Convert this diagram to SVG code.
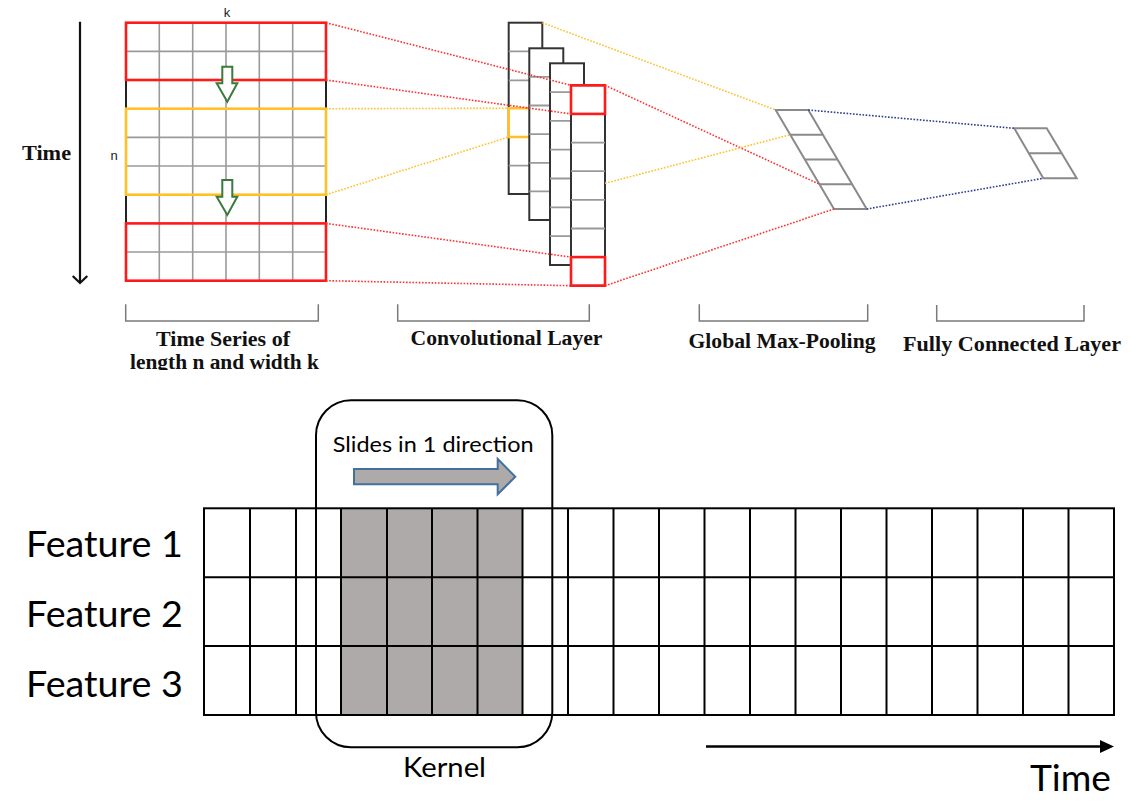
<svg xmlns="http://www.w3.org/2000/svg" width="1144" height="806" viewBox="0 0 1144 806">
<style>
.ser{font-family:"Liberation Serif","Times New Roman",serif;font-weight:bold;fill:#111;}
.sans{font-family:"Liberation Sans",Arial,sans-serif;fill:#222;}
.cal{font-family:Lato,"Open Sans",sans-serif;fill:#000;}
.gin{stroke:#9a9a9a;stroke-width:1.6;fill:none;}
.blk{stroke:#222;stroke-width:2;fill:none;}
.red{stroke:#ff1a1a;stroke-width:2.6;fill:none;}
.yel{stroke:#ffc02a;stroke-width:2.6;fill:none;}
.col{fill:#fff;stroke:#333;stroke-width:2;}
.cin{stroke:#999;stroke-width:1.8;}
.dr{stroke:#ff3030;stroke-width:1.6;stroke-dasharray:1.6 1.6;fill:none;}
.dy{stroke:#ffc02a;stroke-width:1.6;stroke-dasharray:1.6 1.6;fill:none;}
.db{stroke:#2a3f8f;stroke-width:1.6;stroke-dasharray:1.6 1.6;fill:none;}
.pg{stroke:#8a8a8a;stroke-width:2;fill:#fff;}
.pgl{stroke:#8a8a8a;stroke-width:2;}
.brk{stroke:#7a7a7a;stroke-width:1.5;fill:none;}
.grn{fill:#fff;stroke:#3a7a3a;stroke-width:2;}
.bg{stroke:#000;stroke-width:2;fill:none;}
</style>
<defs>
<clipPath id="clipLabel"><rect x="0" y="0" width="1144" height="370"/></clipPath>
</defs>

<!-- Left time axis -->
<g id="time-axis-top">
<line x1="80" y1="21.7" x2="80" y2="282.5" stroke="#111" stroke-width="2.2"/>
<polyline points="72.7,276 80,283 87.3,276" fill="none" stroke="#111" stroke-width="2.2"/>
<text class="ser" x="46.5" y="160" font-size="22" text-anchor="middle" textLength="49" lengthAdjust="spacingAndGlyphs">Time</text>
</g>

<!-- Input time series grid -->
<g id="input-series">
<g class="gin">
<line x1="159.3" y1="22.7" x2="159.3" y2="280.7"/>
<line x1="192.7" y1="22.7" x2="192.7" y2="280.7"/>
<line x1="226" y1="22.7" x2="226" y2="280.7"/>
<line x1="259.3" y1="22.7" x2="259.3" y2="280.7"/>
<line x1="292.7" y1="22.7" x2="292.7" y2="280.7"/>
<line x1="126" y1="51.4" x2="326" y2="51.4"/>
<line x1="126" y1="137.4" x2="326" y2="137.4"/>
<line x1="126" y1="166" x2="326" y2="166"/>
<line x1="126" y1="252" x2="326" y2="252"/>
</g>
<line class="blk" x1="126" y1="80" x2="126" y2="223.4"/>
<line class="blk" x1="326" y1="80" x2="326" y2="223.4"/>
<rect class="yel" x="126" y="108.7" width="200" height="86"/>
<rect class="red" x="126" y="22.7" width="200" height="57.3"/>
<rect class="red" x="126" y="223.4" width="200" height="57.3"/>
<polygon class="grn" points="222.3,66.7 232.3,66.7 232.3,83.3 237.3,83.3 227.3,101.7 216.7,83.3 222.3,83.3"/>
<polygon class="grn" points="222.3,180 232.3,180 232.3,196.7 237.3,196.7 227.3,215 216.7,196.7 222.3,196.7"/>
<text class="sans" x="227" y="17" font-size="13" text-anchor="middle">k</text>
<text class="sans" x="114" y="159.5" font-size="13" text-anchor="middle">n</text>
</g>

<!-- Convolutional layer -->
<g id="conv-layer">
<rect class="col" x="508.7" y="22.7" width="33.6" height="171.3"/>
<g class="cin">
<line x1="508.7" y1="51.3" x2="542.3" y2="51.3"/>
<line x1="508.7" y1="80.3" x2="542.3" y2="80.3"/>
<line x1="508.7" y1="165.7" x2="542.3" y2="165.7"/>
</g>
<polyline class="yel" points="529.3,108.3 508.7,108.3 508.7,137 529.3,137"/>
<rect class="col" x="529.3" y="48.3" width="34" height="171.7"/>
<g class="cin">
<line x1="529.3" y1="76.9" x2="563.3" y2="76.9"/>
<line x1="529.3" y1="105.5" x2="563.3" y2="105.5"/>
<line x1="529.3" y1="134.1" x2="563.3" y2="134.1"/>
<line x1="529.3" y1="162.8" x2="563.3" y2="162.8"/>
<line x1="529.3" y1="191.4" x2="563.3" y2="191.4"/>
</g>
<rect class="col" x="550" y="63.3" width="34" height="201.7"/>
<g class="cin">
<line x1="550" y1="92.1" x2="584" y2="92.1"/>
<line x1="550" y1="120.9" x2="584" y2="120.9"/>
<line x1="550" y1="149.7" x2="584" y2="149.7"/>
<line x1="550" y1="178.5" x2="584" y2="178.5"/>
<line x1="550" y1="207.4" x2="584" y2="207.4"/>
<line x1="550" y1="236.2" x2="584" y2="236.2"/>
</g>
<rect class="col" x="571" y="85.3" width="34" height="200.4"/>
<g class="cin">
<line x1="571" y1="142.6" x2="605" y2="142.6"/>
<line x1="571" y1="171.2" x2="605" y2="171.2"/>
<line x1="571" y1="199.8" x2="605" y2="199.8"/>
<line x1="571" y1="228.5" x2="605" y2="228.5"/>
</g>
<rect class="red" x="571" y="85.3" width="34" height="28.6"/>
<rect class="red" x="571" y="257.1" width="34" height="28.6"/>
</g>

<!-- Global max pooling -->
<g id="max-pooling">
<polygon class="pg" points="775.7,110 808.3,110 866.7,209 834,209"/>
<line class="pgl" x1="790.3" y1="134.7" x2="822.9" y2="134.7"/>
<line class="pgl" x1="804.9" y1="159.5" x2="837.5" y2="159.5"/>
<line class="pgl" x1="819.4" y1="184.2" x2="852" y2="184.2"/>
</g>

<!-- Fully connected -->
<g id="fully-connected">
<polygon class="pg" points="1014.3,128.3 1046.7,128.3 1076.7,178.3 1043.3,178.3"/>
<line class="pgl" x1="1028.8" y1="153.3" x2="1061.7" y2="153.3"/>
</g>

<!-- Dotted connectors -->
<g id="connectors">
<line class="dr" x1="326" y1="22.7" x2="571" y2="85.3"/>
<line class="dr" x1="326" y1="80" x2="571" y2="113.9"/>
<line class="dr" x1="326" y1="223.4" x2="571" y2="257.1"/>
<line class="dr" x1="326" y1="280.7" x2="571" y2="285.7"/>
<line class="dr" x1="605" y1="85.3" x2="819.4" y2="184.2"/>
<line class="dr" x1="605" y1="285.7" x2="834" y2="209"/>
<line class="dy" x1="326" y1="108.7" x2="508.7" y2="108.3"/>
<line class="dy" x1="326" y1="194.7" x2="508.7" y2="137"/>
<line class="dy" x1="542.3" y1="22.7" x2="775.7" y2="110"/>
<line class="dy" x1="605" y1="183.3" x2="790.3" y2="134.7"/>
<line class="db" x1="808.3" y1="110" x2="1014.3" y2="128.3"/>
<line class="db" x1="866.7" y1="209" x2="1043.3" y2="178.3"/>
</g>

<!-- Brackets and labels -->
<g id="label-series">
<polyline class="brk" points="125.7,304.3 125.7,321 318.3,321 318.3,304.3"/>
<g clip-path="url(#clipLabel)">
<text class="ser" x="223" y="346" font-size="21.6" text-anchor="middle" textLength="134" lengthAdjust="spacingAndGlyphs">Time Series of</text>
<text class="ser" x="224.5" y="368.5" font-size="21.6" text-anchor="middle" textLength="189" lengthAdjust="spacingAndGlyphs">length n and width k</text>
</g>
</g>
<g id="label-conv">
<polyline class="brk" points="397.7,304.3 397.7,321 589.3,321 589.3,304.3"/>
<text class="ser" x="506.5" y="345" font-size="21.6" text-anchor="middle" textLength="192" lengthAdjust="spacingAndGlyphs">Convolutional Layer</text>
</g>
<g id="label-pool">
<polyline class="brk" points="699.3,304.3 699.3,321 867.7,321 867.7,304.3"/>
<text class="ser" x="782" y="348" font-size="21.6" text-anchor="middle" textLength="187" lengthAdjust="spacingAndGlyphs">Global Max-Pooling</text>
</g>
<g id="label-fc">
<polyline class="brk" points="936.7,305 936.7,321 1084,321 1084,305"/>
<text class="ser" x="1012" y="351" font-size="21.6" text-anchor="middle" textLength="218" lengthAdjust="spacingAndGlyphs">Fully Connected Layer</text>
</g>

<!-- Bottom: feature grid -->
<g id="feature-grid">
<rect x="341" y="508.3" width="181.5" height="206.7" fill="#aeaaaa"/>
<g class="bg">
<rect x="204" y="508.3" width="910" height="206.7"/>
<line x1="204" y1="577.3" x2="1114" y2="577.3"/>
<line x1="204" y1="646" x2="1114" y2="646"/>
<line x1="250" y1="508.3" x2="250" y2="715"/>
<line x1="296" y1="508.3" x2="296" y2="715"/>
<line x1="341" y1="508.3" x2="341" y2="715"/>
<line x1="387" y1="508.3" x2="387" y2="715"/>
<line x1="432" y1="508.3" x2="432" y2="715"/>
<line x1="477.5" y1="508.3" x2="477.5" y2="715"/>
<line x1="522.5" y1="508.3" x2="522.5" y2="715"/>
<line x1="568" y1="508.3" x2="568" y2="715"/>
<line x1="613.5" y1="508.3" x2="613.5" y2="715"/>
<line x1="659" y1="508.3" x2="659" y2="715"/>
<line x1="704.5" y1="508.3" x2="704.5" y2="715"/>
<line x1="750" y1="508.3" x2="750" y2="715"/>
<line x1="795.5" y1="508.3" x2="795.5" y2="715"/>
<line x1="841" y1="508.3" x2="841" y2="715"/>
<line x1="886.5" y1="508.3" x2="886.5" y2="715"/>
<line x1="932" y1="508.3" x2="932" y2="715"/>
<line x1="977.5" y1="508.3" x2="977.5" y2="715"/>
<line x1="1023" y1="508.3" x2="1023" y2="715"/>
<line x1="1068.5" y1="508.3" x2="1068.5" y2="715"/>
</g>
<text class="cal" x="26" y="557" font-size="37" textLength="157" lengthAdjust="spacingAndGlyphs">Feature 1</text>
<text class="cal" x="26" y="627" font-size="37" textLength="157" lengthAdjust="spacingAndGlyphs">Feature 2</text>
<text class="cal" x="26" y="697" font-size="37" textLength="157" lengthAdjust="spacingAndGlyphs">Feature 3</text>
</g>

<!-- Kernel -->
<g id="kernel">
<rect x="316" y="400.3" width="236.3" height="347" rx="35" ry="35" fill="none" stroke="#000" stroke-width="2"/>
<text class="cal" x="332.7" y="452" font-size="21.5" textLength="201" lengthAdjust="spacingAndGlyphs">Slides in 1 direction</text>
<polygon points="354,469 497.7,469 497.7,459 515.3,476.7 497.7,494.3 497.7,484.3 354,484.3" fill="#aeaaaa" stroke="#41719c" stroke-width="2"/>
<text class="cal" x="403" y="777" font-size="27" textLength="83" lengthAdjust="spacingAndGlyphs">Kernel</text>
</g>

<!-- Time arrow bottom -->
<g id="time-axis-bottom">
<line x1="706" y1="746.5" x2="1102" y2="746.5" stroke="#000" stroke-width="2.5"/>
<polygon points="1100,740 1114,746.5 1100,753" fill="#000"/>
<text class="cal" x="1030" y="791" font-size="37" textLength="81" lengthAdjust="spacingAndGlyphs">Time</text>
</g>
</svg>
